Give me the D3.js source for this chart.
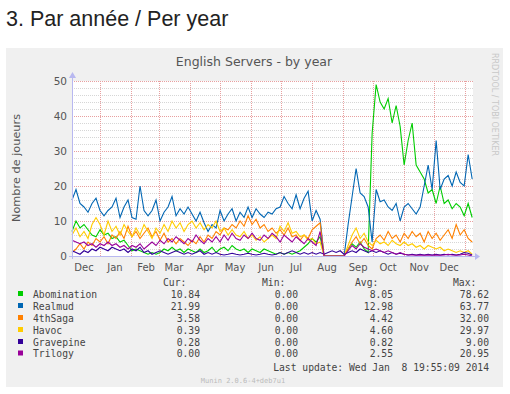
<!DOCTYPE html>
<html>
<head>
<meta charset="utf-8">
<script src="https://cdn.jsdelivr.net/npm/d3@7"></script>
<style>
  body { margin: 0; background: #fff; }
  svg text { font-family: "DejaVu Sans", sans-serif; }
  .mono { font-family: "DejaVu Sans Mono", monospace; font-size: 9.7px; fill: #444; }
</style>
</head>
<body>
<svg id="chart" width="510" height="394"></svg>
<script>
// data: one value every 4 days, from 2012-12-04 to 2014-01-08
var startDate = new Date(2012, 11, 4);
var endDate = new Date(2014, 0, 8, 19, 55);
var stepDays = 4;

var abomination = [7, 10, 8, 9, 7.5, 6, 5.5, 7.5, 6, 6.5, 5, 5.5, 4, 4.5, 3, 1.5, 2, 1.5, 1, 0.5,
  1, 0.5, 1, 2, 1.5, 2.5, 1.5, 2, 1, 2, 1.5, 1, 2, 1, 1.5, 2.5, 1, 2, 2.5, 1.5,
  3, 2, 1.5, 2, 1, 2, 1.5, 1, 2, 1.5, 1, 0.5, 1, 0.5, 1, 0.5, 1, 1.5, 2.5, 3.5,
  5, 4, 5.5, 0, 0, 0, 0, 0, 0, 2, 3.5, 2.5, 4, 2, 1, 35, 49, 44, 42, 45,
  38, 43, 37, 26, 33, 38, 26, 24, 22, 18, 19, 15, 20, 15, 16, 13.5, 15, 14, 11.5, 15, 11];
var realmud = [16, 19, 15, 14, 12.5, 15, 16.5, 13, 11.5, 13, 14, 16.5, 11, 14, 16, 11, 10.5, 20, 13, 11.5,
  13, 16, 10, 12.5, 14, 17, 11.5, 13.5, 12, 14, 12, 10, 12.5, 9.5, 7, 9, 8, 13, 10, 12,
  13.5, 10, 12.5, 11, 14, 11, 13.5, 12, 11, 12.5, 12, 13.5, 14, 17, 15, 13.5, 17.5, 13.5, 16.5, 18.5,
  10, 13, 10.5, 0, 0, 0, 0, 0, 0, 9, 17, 25, 18, 17, 14, 4, 19, 15.5, 16, 14,
  13, 15, 10, 14, 15, 13.5, 12, 14, 20, 26, 19, 33, 19, 22, 23, 20, 24, 21, 20, 29, 22];
var saga = [1, 2, 3.5, 2, 4, 3, 5, 4, 5.5, 3.5, 6, 5, 7, 5, 8.5, 5.5, 7, 5, 6.5, 8,
  5.5, 7, 4.5, 6.5, 4, 5, 3.5, 5, 4, 3, 4.5, 3.5, 5.5, 4, 6, 5, 7, 6, 8, 7.5,
  9, 8, 10, 8.5, 11.5, 9, 10.5, 8, 9, 7, 8, 6.5, 7.5, 6, 8, 5.5, 6, 4.5, 6, 5,
  7.5, 8.5, 9.5, 0, 0, 0, 0, 0, 0, 2, 4, 5.5, 3.5, 5, 3, 2, 5, 6, 4.5, 7,
  5, 6, 4, 6.5, 5, 7, 5.5, 6.5, 4, 7, 5, 6.5, 4.5, 6, 7.5, 5, 9, 6, 7.5, 5, 4];
var havoc = [6, 8, 5.5, 7, 5, 9, 11, 9, 6, 10, 7, 8.5, 6, 9, 7, 5.5, 8, 6, 9, 7,
  5, 8, 6.5, 9, 7, 10, 8, 9.5, 7, 9, 10, 8, 9.5, 7.5, 9, 8, 10, 7, 8, 6,
  7.5, 6, 5.5, 7, 5, 6, 4.5, 5.5, 4, 5, 6, 5, 8.5, 7, 9.5, 6.5, 7, 5.5, 6, 4.5,
  5, 3.5, 4, 0, 0, 0, 0, 0, 0, 3, 6, 8, 5, 6.5, 4, 3, 4.5, 3.5, 4, 3,
  4.5, 3.5, 3, 4, 3, 3.5, 2.5, 3, 2, 3, 2.5, 2, 2.5, 1.5, 2, 1.5, 1, 1.5, 1, 1.5, 0.5];
var gravepine = [1.5, 1, 0.5, 1.5, 1, 2, 1.5, 2.5, 2, 1.5, 2.5, 2, 1.5, 2, 1, 2, 1.5, 2.5, 1, 1.5,
  0.5, 1, 1.5, 1, 0.5, 1, 1.5, 1, 0.5, 1, 0.5, 1, 1.5, 0.5, 1, 0.5, 1, 0.5, 0.3, 0.5,
  0.8, 0.5, 0.3, 0.5, 0.8, 0.5, 0.3, 0.5, 0.8, 0.5, 0.3, 0.5, 1, 0.5, 1, 1.5, 1, 0.5, 1, 0.5,
  1, 0.5, 1, 0.5, 1, 1.5, 1, 1.5, 0.5, 1, 1.5, 1, 2, 1.5, 1, 1.5, 1, 1.5, 1, 0.5,
  1, 0.5, 0.8, 0.5, 0.3, 0.5, 0.3, 0.5, 0.3, 0.5, 0.3, 0.5, 0.3, 0.5, 0.3, 0.5, 0.3, 0.5, 1, 0.8, 0.3];
var trilogy = [4.5, 4, 3.5, 4, 3, 3.5, 2.5, 3.5, 3, 4, 3, 3.5, 2.5, 3, 2, 3, 2.5, 3.5, 2, 3,
  4, 3, 4.5, 3.5, 5, 4, 5.5, 4.5, 3.5, 5, 4, 6, 4.5, 3.5, 5, 4, 5.5, 4, 6, 4.5,
  6.5, 5, 4.5, 6, 5, 6.5, 5, 4.5, 6, 5, 6.5, 5.5, 4, 6, 5, 4, 5.5, 4.5, 3.5, 5,
  4, 3, 7, 0, 0, 0, 0, 0, 0, 1.5, 3, 2, 3.5, 2.5, 2, 1.5, 2, 1.5, 1, 1.5,
  1, 0.5, 1, 0.5, 0.3, 0.3, 0.2, 0.3, 0.2, 0.3, 0.2, 0.3, 0.2, 0.3, 0.5, 0.3, 0.2, 0.3, 0.5, 0.3, 0];

var seriesNames = ["Abomination", "Realmud", "4thSaga", "Havoc", "Gravepine", "Trilogy"];
var seriesColors = ["#00CC00", "#0066B3", "#FF8000", "#FFCC00", "#330099", "#990099"];
var seriesValues = [abomination, realmud, saga, havoc, gravepine, trilogy];
var curVals = ["10.84", "21.99", "3.58", "0.39", "0.28", "0.00"];
var minVals = ["0.00", "0.00", "0.00", "0.00", "0.00", "0.00"];
var avgVals = ["8.05", "12.98", "4.42", "4.60", "0.82", "2.55"];
var maxVals = ["78.62", "63.77", "32.00", "29.97", "9.00", "20.95"];
var yTicks = [0, 10, 20, 30, 40, 50];

var svg = d3.select("#chart");

// page heading
svg.append("text")
  .attr("x", 6).attr("y", 26)
  .style("font-family", "'Liberation Sans', Arial, sans-serif")
  .style("font-size", "21.5px")
  .attr("fill", "#222")
  .text("3. Par année / Per year");

// grey munin panel
svg.append("rect")
  .attr("x", 6).attr("y", 48).attr("width", 497).attr("height", 339)
  .attr("fill", "#F0F0F0");

var x = d3.scaleTime().domain([startDate, endDate]).range([72, 473]);
var y = d3.scaleLinear().domain([0, 50]).range([256, 81]);

svg.append("rect")
  .attr("x", 72).attr("y", 81).attr("width", 401).attr("height", 175)
  .attr("fill", "#fff");

// minor horizontal grid
svg.append("g").selectAll("line")
  .data(d3.range(2, 50, 2).filter(function (v) { return v % 10 !== 0; }))
  .join("line")
  .attr("x1", 72).attr("x2", 473)
  .attr("y1", function (d) { return y(d) + 0.5; })
  .attr("y2", function (d) { return y(d) + 0.5; })
  .attr("stroke", "#D6D6D6")
  .attr("stroke-dasharray", "1,1");

// major horizontal grid
svg.append("g").selectAll("line")
  .data(yTicks.slice(1))
  .join("line")
  .attr("x1", 72).attr("x2", 473)
  .attr("y1", function (d) { return y(d) + 0.5; })
  .attr("y2", function (d) { return y(d) + 0.5; })
  .attr("stroke", "#E8A0A0")
  .attr("stroke-dasharray", "1,1");

// month grid
var months = d3.timeMonth.range(startDate, endDate);
svg.append("g").selectAll("line")
  .data(months)
  .join("line")
  .attr("x1", function (d) { return Math.round(x(d)) + 0.5; })
  .attr("x2", function (d) { return Math.round(x(d)) + 0.5; })
  .attr("y1", 81).attr("y2", 256)
  .attr("stroke", "#E8A0A0")
  .attr("stroke-dasharray", "1,1");

// month labels, centred mid-month
var labelDates = [new Date(2012, 11, 16)].concat(months.map(function (d) { return d3.timeDay.offset(d, 15); }));
svg.append("g").selectAll("text")
  .data(labelDates.filter(function (d) { return d < endDate; }))
  .join("text")
  .attr("x", function (d) { return x(d); })
  .attr("y", 271)
  .attr("text-anchor", "middle")
  .style("font-size", "10px")
  .attr("fill", "#555")
  .text(d3.timeFormat("%b"));

// y axis labels
var yAxis = svg.append("g")
  .attr("transform", "translate(67,0)")
  .call(d3.axisLeft(y).tickValues(yTicks).tickSize(0).tickPadding(0));
yAxis.select(".domain").remove();
yAxis.selectAll("text")
  .style("font-size", "10.5px")
  .style("font-family", "'DejaVu Sans', sans-serif")
  .attr("fill", "#555");

// series lines
var line = d3.line()
  .x(function (d, i) { return x(d3.timeDay.offset(startDate, i * stepDays)); })
  .y(function (d) { return y(d); });

svg.append("g").selectAll("path")
  .data(seriesValues)
  .join("path")
  .attr("d", line)
  .attr("fill", "none")
  .attr("stroke", function (d, i) { return seriesColors[i]; })
  .attr("stroke-width", 1.1);

// axes with arrows
var axisColor = "#B8B8F0";
svg.append("line").attr("x1", 69).attr("x2", 475).attr("y1", 256.5).attr("y2", 256.5).attr("stroke", axisColor);
svg.append("line").attr("x1", 72.5).attr("x2", 72.5).attr("y1", 259).attr("y2", 77).attr("stroke", axisColor);
svg.append("path").attr("d", "M475,253 L480,256.5 L475,260 Z").attr("fill", axisColor);
svg.append("path").attr("d", "M69,78 L72.5,72 L76,78 Z").attr("fill", axisColor);

// titles
svg.append("text")
  .attr("x", 254).attr("y", 66)
  .attr("text-anchor", "middle")
  .style("font-size", "12.5px")
  .attr("fill", "#555")
  .text("English Servers - by year");

svg.append("text")
  .attr("transform", "translate(20,168) rotate(-90)")
  .attr("text-anchor", "middle")
  .style("font-size", "11.3px")
  .attr("fill", "#555")
  .text("Nombre de joueurs");

svg.append("text")
  .attr("transform", "translate(492,53) rotate(90)")
  .style("font-size", "8px")
  .attr("fill", "#C8C8C8")
  .text("RRDTOOL / TOBI OETIKER");

// legend
var rowY = [297.5, 309.5, 321.5, 333.5, 345.5, 357];
var legend = svg.append("g");
legend.selectAll("text.hdr")
  .data([["Cur:", 163], ["Min:", 262], ["Avg:", 355], ["Max:", 453]])
  .join("text")
  .attr("class", "mono")
  .attr("x", function (d) { return d[1]; })
  .attr("y", 286)
  .text(function (d) { return d[0]; });

var rows = legend.selectAll("g.row")
  .data(seriesNames)
  .join("g")
  .attr("transform", function (d, i) { return "translate(0," + rowY[i] + ")"; });
rows.append("rect")
  .attr("x", 18).attr("y", -6.5).attr("width", 5).attr("height", 5)
  .attr("fill", function (d, i) { return seriesColors[i]; });
rows.append("text").attr("class", "mono").attr("x", 33).text(function (d) { return d; });
[[curVals, 200], [minVals, 298], [avgVals, 393], [maxVals, 489]].forEach(function (col) {
  rows.append("text")
    .attr("class", "mono")
    .attr("x", col[1])
    .attr("text-anchor", "end")
    .text(function (d, i) { return col[0][i]; });
});

svg.append("text")
  .attr("class", "mono")
  .attr("x", 489).attr("y", 371)
  .attr("text-anchor", "end")
  .style("white-space", "pre")
  .attr("xml:space", "preserve")
  .text("Last update: Wed Jan  8 19:55:09 2014");

svg.append("text")
  .attr("x", 243).attr("y", 383)
  .attr("text-anchor", "middle")
  .style("font-family", "'DejaVu Sans Mono', monospace")
  .style("font-size", "7px")
  .attr("fill", "#BBB")
  .text("Munin 2.0.6-4+deb7u1");
</script>
</body>
</html>
